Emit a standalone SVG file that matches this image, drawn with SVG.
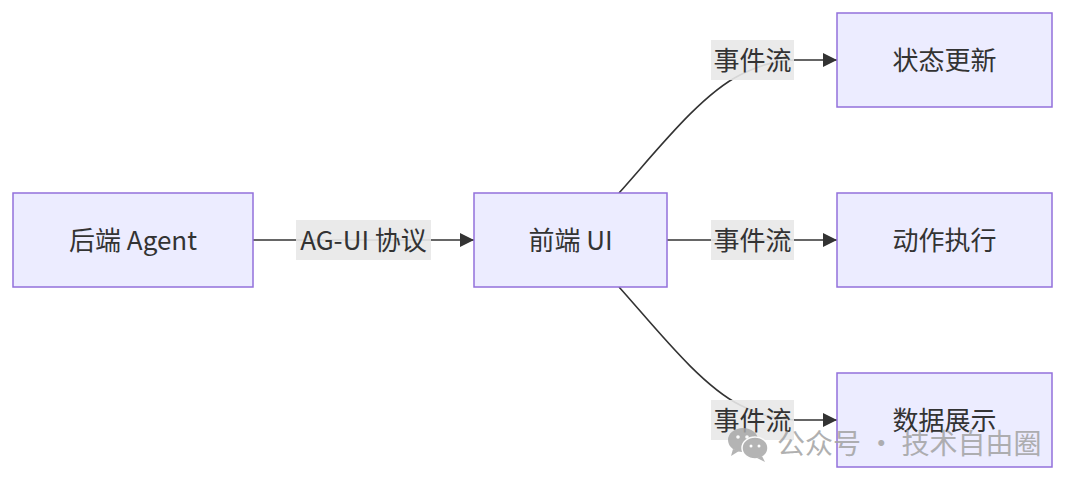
<svg xmlns="http://www.w3.org/2000/svg" width="1080" height="487" viewBox="0 0 1080 487">
<style>
.node rect{fill:#ECECFF;stroke:#9370DB;stroke-width:1.5}
.t{font-family:"Noto Sans CJK SC","Noto Sans",sans-serif;font-size:26px;fill:#333;text-anchor:middle;dominant-baseline:central}
.edge{fill:none;stroke:#333;stroke-width:1.6}
.lbg{fill:#e8e8e8;opacity:0.9}
.wm{font-family:"Noto Sans CJK SC","Noto Sans",sans-serif;font-size:28px;fill:#a3a3a3;dominant-baseline:central}
</style>
<defs>
<marker id="arr" viewBox="0 0 10 10" refX="10" refY="5" markerWidth="14" markerHeight="14" markerUnits="userSpaceOnUse" orient="auto">
<path d="M0,0 L10,5 L0,10 z" fill="#333"/>
</marker>
</defs>
<rect width="1080" height="487" fill="#fff"/>
<g id="connectors">
<path class="edge" d="M253,240 L474,240" marker-end="url(#arr)"/>
<path class="edge" d="M619,193 C655,153 700,95 740,75 C760,65 775,61 795,60 L837,60" marker-end="url(#arr)"/>
<path class="edge" d="M667,240 L837,240" marker-end="url(#arr)"/>
<path class="edge" d="M619,287 C655,327 700,385 740,405 C760,415 775,419 795,420 L837,420" marker-end="url(#arr)"/>
</g>
<g id="edge-labels">
<g id="label-ag"><rect class="lbg" x="296" y="220" width="135" height="40"/><text class="t" x="363.5" y="238">AG-UI 协议</text></g>
<g id="label-top"><rect class="lbg" x="711" y="40" width="83" height="40"/><text class="t" x="752.5" y="58">事件流</text></g>
<g id="label-mid"><rect class="lbg" x="711" y="220" width="83" height="40"/><text class="t" x="752.5" y="238">事件流</text></g>
<g id="label-bot"><rect class="lbg" x="711" y="400" width="83" height="40"/><text class="t" x="752.5" y="418">事件流</text></g>
</g>
<g id="backend" class="node"><rect x="13" y="193" width="240" height="94"/><text class="t" x="133" y="238">后端 Agent</text></g>
<g id="frontend" class="node"><rect x="474" y="193" width="193" height="94"/><text class="t" x="570.5" y="238">前端 UI</text></g>
<g id="state" class="node"><rect x="837" y="13" width="215" height="94"/><text class="t" x="944.5" y="58">状态更新</text></g>
<g id="action" class="node"><rect x="837" y="193" width="215" height="94"/><text class="t" x="944.5" y="238">动作执行</text></g>
<g id="data" class="node"><rect x="837" y="373" width="215" height="94"/><text class="t" x="944.5" y="418">数据展示</text></g>
<g id="watermark" opacity="0.85">
<ellipse cx="743" cy="440" rx="15" ry="12" fill="#a8a8a8"/>
<path d="M733,449 L731,456 L739,451 z" fill="#a8a8a8"/>
<ellipse cx="755" cy="448" rx="13" ry="11" fill="#a8a8a8" stroke="#fff" stroke-width="1.5"/>
<path d="M762,456 L765,462 L757,458 z" fill="#a8a8a8"/>
<circle cx="738" cy="437" r="1.8" fill="#fff"/><circle cx="747" cy="437" r="1.8" fill="#fff"/>
<circle cx="751" cy="446" r="1.5" fill="#fff"/><circle cx="759" cy="446" r="1.5" fill="#fff"/>
<text class="wm" x="777" y="442">公众号 · 技术自由圈</text>
</g>
</svg>
